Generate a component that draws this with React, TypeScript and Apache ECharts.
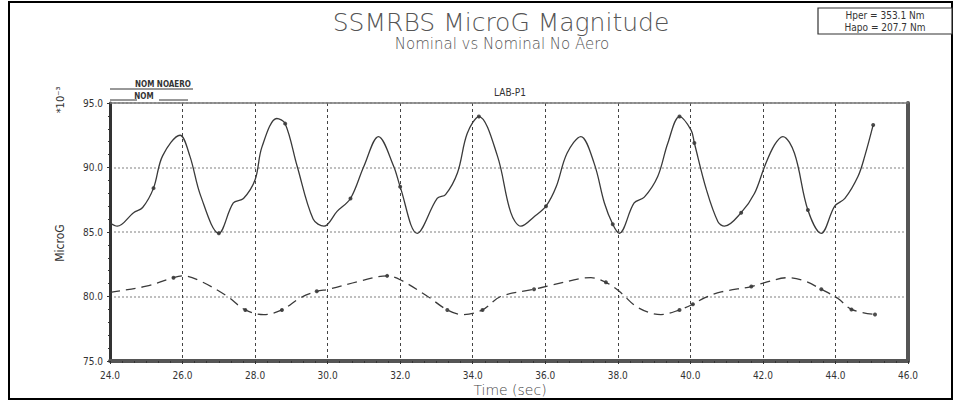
import React, { useEffect, useRef } from "react";
import * as echarts from "echarts";

const titleText = "SSMRBS MicroG Magnitude";
const subtitleText = "Nominal vs Nominal No Aero";
const panelText = "LAB-P1";
const orbitLines = ["Hper = 353.1 Nm", "Hapo = 207.7 Nm"];
const legendNames = ["NOM NOAERO", "NOM"];

// solid curve
const noAeroT = [24.0, 24.2, 24.65, 24.9, 25.2, 25.45, 25.93, 26.2, 26.5, 27.0, 27.4, 27.68, 28.0, 28.19, 28.6, 28.83, 29.16, 29.6, 29.9, 30.26, 30.63, 31.0, 31.4, 31.82, 32.0, 32.47, 33.02, 33.25, 33.58, 33.85, 34.17, 34.68, 35.05, 35.33, 35.7, 36.02, 36.3, 36.6, 36.98, 37.35, 37.63, 37.86, 38.04, 38.45, 38.73, 39.1, 39.38, 39.7, 40.02, 40.11, 40.44, 40.76, 40.94, 41.4, 41.77, 42.05, 42.32, 42.55, 42.87, 43.24, 43.61, 43.98, 44.26, 44.62, 44.81, 45.04];
const noAeroV = [85.7, 85.45, 86.5, 86.9, 88.4, 90.9, 92.5, 90.9, 87.8, 84.9, 87.25, 87.6, 89.05, 91.6, 93.8, 93.4, 90.1, 86.0, 85.45, 86.6, 87.6, 90.1, 92.4, 90.1, 88.5, 84.9, 87.6, 87.9, 89.6, 92.65, 93.95, 90.9, 86.5, 85.45, 86.2, 87.0, 88.5, 91.1, 92.4, 90.3, 87.25, 85.6, 84.9, 87.25, 87.7, 89.3, 91.9, 93.95, 92.9, 91.9, 88.3, 85.8, 85.45, 86.5, 88.0, 90.1, 91.75, 92.4, 91.1, 86.7, 84.9, 87.0, 87.6, 89.3, 90.9, 93.3];
const noAeroMarkT = [25.2, 27.0, 28.83, 30.63, 32.0, 34.17, 36.02, 37.86, 39.7, 40.11, 41.4, 43.24, 45.04];
const noAeroMarkV = [88.4, 84.9, 93.4, 87.6, 88.5, 93.95, 87.0, 85.6, 93.95, 91.9, 86.5, 86.7, 93.3];

// dashed curve
const nomT = [24.0, 24.09, 25.0, 25.75, 26.02, 26.49, 27.22, 27.73, 28.24, 28.74, 29.25, 29.7, 30.03, 30.9, 31.64, 32.0, 32.74, 33.3, 33.72, 34.27, 34.77, 35.69, 36.06, 36.98, 37.26, 37.67, 38.04, 38.55, 39.19, 39.7, 40.07, 40.39, 40.85, 41.68, 42.05, 42.69, 43.15, 43.61, 44.07, 44.44, 45.09];
const nomV = [80.3, 80.35, 80.8, 81.46, 81.6, 81.2, 80.04, 78.96, 78.6, 78.96, 79.9, 80.4, 80.56, 81.2, 81.6, 81.3, 80.04, 78.96, 78.6, 78.96, 80.0, 80.56, 80.8, 81.4, 81.46, 81.1, 80.4, 79.15, 78.6, 78.96, 79.4, 79.9, 80.35, 80.77, 81.07, 81.46, 81.2, 80.56, 79.84, 79.0, 78.6];
const nomMarkT = [25.75, 27.73, 28.74, 29.7, 31.64, 33.3, 34.27, 35.69, 37.67, 39.7, 40.07, 41.68, 43.61, 44.44, 45.09];
const nomMarkV = [81.46, 78.96, 78.96, 80.4, 81.6, 78.96, 78.96, 80.56, 81.1, 78.96, 79.4, 80.77, 80.56, 79.0, 78.6];

const xMin = 24, xMax = 46, xStep = 2;
const yMin = 75, yMax = 95, yStep = 5;

const FONT = "'Liberation Sans Narrow', 'DejaVu Sans Condensed', 'DejaVu Sans', sans-serif";
const TFONT = "'DejaVu Sans', 'Liberation Sans', sans-serif";

const pairs = (a: number[], b: number[]) => a.map((t, i) => [t, b[i]]);

export default function App() {
  const ref = useRef<HTMLDivElement>(null);
  useEffect(() => {
    if (!ref.current) return;
    const chart = echarts.init(ref.current, null, { renderer: "svg" });
    const fmt = (v: number) => v.toFixed(1);
    chart.setOption({
      animation: false,
      backgroundColor: "#fff",
      grid: { left: 110, right: 49, top: 103, bottom: 41 },
      xAxis: [
        {
          type: "value", min: xMin, max: xMax, interval: xStep,
          axisLine: { show: true, onZero: false, lineStyle: { color: "#555", width: 4 } },
          axisTick: { show: true, length: 3, lineStyle: { color: "#333" } },
          minorTick: { show: true, splitNumber: 6, length: 2, lineStyle: { color: "#333" } },
          axisLabel: { formatter: fmt, fontSize: 10, color: "#333", fontFamily: FONT, margin: 9 },
          splitLine: { show: true, lineStyle: { color: "#444", type: [3, 3], width: 1 } },
        },
        {
          type: "value", min: xMin, max: xMax, interval: xStep, position: "top",
          axisLine: { show: true, onZero: false, lineStyle: { color: "#777", width: 1.5 } },
          axisTick: { show: false }, axisLabel: { show: false }, splitLine: { show: false },
        },
      ],
      yAxis: [
        {
          type: "value", min: yMin, max: yMax, interval: yStep,
          axisLine: { show: true, onZero: false, lineStyle: { color: "#333", width: 3 } },
          axisTick: { show: true, length: 3, lineStyle: { color: "#333" } },
          minorTick: { show: true, splitNumber: 5, length: 2, lineStyle: { color: "#333" } },
          axisLabel: { formatter: fmt, fontSize: 10, color: "#333", fontFamily: FONT, margin: 7 },
          splitLine: { show: true, lineStyle: { color: "#aaa", type: [2, 2], width: 1.5 } },
        },
        {
          type: "value", min: yMin, max: yMax, interval: yStep, position: "right",
          axisLine: { show: true, onZero: false, lineStyle: { color: "#555", width: 4 } },
          axisTick: { show: false }, axisLabel: { show: false }, splitLine: { show: false },
        },
      ],
      series: [
        {
          name: legendNames[0], type: "line", data: pairs(noAeroT, noAeroV), smooth: 0.35,
          symbol: "none", lineStyle: { color: "#3a3a3a", width: 1.3 },
        },
        {
          name: legendNames[1], type: "line", data: pairs(nomT, nomV), smooth: 0.35,
          symbol: "none", lineStyle: { color: "#3a3a3a", width: 1.3, type: [10, 6] },
        },
        {
          type: "scatter", data: pairs(noAeroMarkT, noAeroMarkV), symbolSize: 4,
          itemStyle: { color: "#222" },
        },
        {
          type: "scatter", data: pairs(nomMarkT, nomMarkV), symbolSize: 4,
          itemStyle: { color: "#222" },
        },
      ],
      graphic: [
        { type: "rect", shape: { x: 9, y: 2, width: 943, height: 397 }, style: { fill: "none", stroke: "#000", lineWidth: 2 }, silent: true },
        { type: "text", x: 501, y: 22, style: { text: titleText, font: `200 25px ${TFONT}`, fill: "#555", align: "center", verticalAlign: "middle" } },
        { type: "text", x: 502, y: 44, style: { text: subtitleText, font: `200 15px ${TFONT}`, fill: "#555", align: "center", verticalAlign: "middle" } },
        { type: "text", x: 510, y: 92, style: { text: panelText, font: `10px ${FONT}`, fill: "#333", align: "center", verticalAlign: "middle" } },
        { type: "rect", shape: { x: 818, y: 8, width: 134, height: 26 }, style: { fill: "#fff", stroke: "#333", lineWidth: 1.2 } },
        { type: "text", x: 885, y: 15, style: { text: orbitLines[0], font: `10px ${FONT}`, fill: "#333", align: "center", verticalAlign: "middle" } },
        { type: "text", x: 885, y: 27, style: { text: orbitLines[1], font: `10px ${FONT}`, fill: "#333", align: "center", verticalAlign: "middle" } },
        { type: "text", x: 60, y: 100, rotation: Math.PI / 2, style: { text: "*10⁻³", font: `11px ${FONT}`, fill: "#333", align: "center", verticalAlign: "middle" } },
        { type: "text", x: 60, y: 243, rotation: Math.PI / 2, style: { text: "MicroG", font: `12px ${FONT}`, fill: "#333", align: "center", verticalAlign: "middle" } },
        { type: "text", x: 510, y: 390, style: { text: "Time (sec)", font: `200 14px ${TFONT}`, fill: "#444", align: "center", verticalAlign: "middle" } },
        // legend
        { type: "line", shape: { x1: 110, y1: 89, x2: 193, y2: 89 }, style: { stroke: "#333", lineWidth: 1 } },
        { type: "text", x: 163, y: 84, style: { text: legendNames[0], font: `bold 8px ${FONT}`, fill: "#333", align: "center", verticalAlign: "middle" } },
        { type: "line", shape: { x1: 110, y1: 100, x2: 137, y2: 100 }, style: { stroke: "#333", lineWidth: 1 } },
        { type: "text", x: 144, y: 96, style: { text: legendNames[1], font: `bold 8px ${FONT}`, fill: "#333", align: "center", verticalAlign: "middle" } },
        { type: "line", shape: { x1: 159, y1: 100, x2: 188, y2: 100 }, style: { stroke: "#333", lineWidth: 1 } },
      ],
    });
    return () => chart.dispose();
  }, []);
  return <div ref={ref} style={{ width: 957, height: 402, position: "absolute", left: 0, top: 0 }} />;
}
